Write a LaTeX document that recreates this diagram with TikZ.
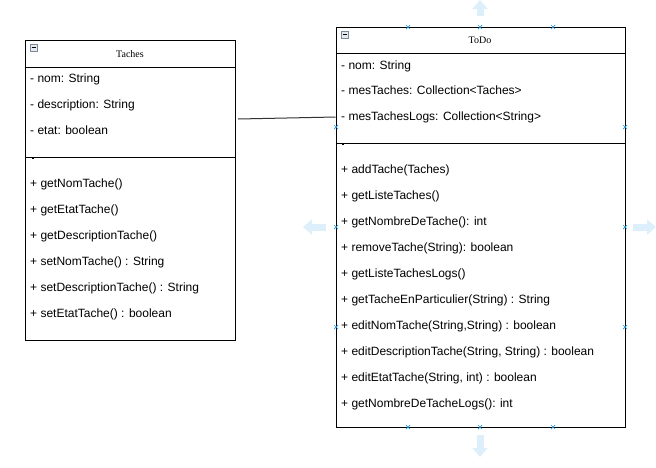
\documentclass[tikz,border=0pt]{standalone}
\usepackage{fontspec}
\setmainfont{Liberation Sans}
\newfontfamily\titlefont{Liberation Serif}
\usetikzlibrary{positioning}
\usetikzlibrary{arrows.meta}
\definecolor{handleblue}{HTML}{1E9BE0}
\definecolor{hintblue}{HTML}{DCEFFB}
\definecolor{iconedge}{HTML}{7A8A99}
\definecolor{iconfill}{HTML}{E4EAF0}
\tikzset {
  x=1pt, y=-1pt,
  % class rectangle
  classbox/.style={draw, line width=1pt, inner sep=0pt},
  % class name in the header
  classname/.style={inner sep=0pt, font=\titlefont\fontsize{10}{12}\selectfont},
  % one attribute or operation line
  member/.style={anchor=west, inner sep=0pt, text height=8.5pt, text depth=2.5pt,
    font=\fontsize{12}{14}\selectfont},
  % section divider
  divider/.style={line width=0.8pt},
  % the collapse icon
  collapse/.style={draw=iconedge, fill=iconfill, line width=0.6pt},
  % selection handles of the selected class
  handle/.style={handleblue, line width=0.7pt},
  % light blue hint arrows
  hint/.style={hintblue, line width=7pt, -{Triangle[width=15pt,length=9pt]}},
  link/.style={black!80, line width=1pt},
}
\begin{document}
\begin{tikzpicture}
  \useasboundingbox (0,0) rectangle (656,467);

  % class Taches
  \node[classbox, minimum width=210pt, minimum height=300pt] (taches) at (130,190) {};
  \coordinate (tachesh) at (25,67);
  \coordinate (tachesa) at (25,157);
  \draw[divider] (tachesh) -- (tachesh -| taches.east);
  \draw[divider] (tachesa) -- (tachesa -| taches.east);
  \node[classname] (tachesname) at (130,54) {Taches};
  \draw[collapse] (30,44) rectangle (37,51);
  \draw[line width=0.8pt] (31.5,47.5) -- (35.5,47.5);
  \draw[line width=0.8pt] (32,158) -- (34,158);

  \node[member] (tnom) at (30,79) {- nom: String};
  \node[member] (tdesc) at (30,105) {- description: String};
  \node[member] (tetat) at (30,131) {- etat: boolean};

  \node[member] (tm1) at (30,184) {+ getNomTache()};
  \node[member] (tm2) at (30,210) {+ getEtatTache()};
  \node[member] (tm3) at (30,236) {+ getDescriptionTache()};
  \node[member] (tm4) at (30,262) {+ setNomTache() : String};
  \node[member] (tm5) at (30,288) {+ setDescriptionTache() : String};
  \node[member] (tm6) at (30,314) {+ setEtatTache() : boolean};

  % class ToDo
  \node[classbox, minimum width=289pt, minimum height=400pt] (todo) at (480.5,227) {};
  \coordinate (todoh) at (336,53);
  \coordinate (todoa) at (336,143);
  \draw[divider] (todoh) -- (todoh -| todo.east);
  \draw[divider] (todoa) -- (todoa -| todo.east);
  \node[classname] (todoname) at (480,40) {ToDo};
  \draw[collapse] (341,31) rectangle (348,38);
  \draw[line width=0.8pt] (342.5,34.5) -- (346.5,34.5);
  \draw[line width=0.8pt] (342,144) -- (344,144);

  \node[member] (dnom) at (341,66) {- nom: String};
  \node[member] (dtaches) at (341,91) {- mesTaches: Collection<Taches>};
  \node[member] (dlogs) at (341,117) {- mesTachesLogs: Collection<String>};

  \node[member] (dm1) at (341,170) {+ addTache(Taches)};
  \node[member] (dm2) at (341,196) {+ getListeTaches()};
  \node[member] (dm3) at (341,222) {+ getNombreDeTache(): int};
  \node[member] (dm4) at (341,248) {+ removeTache(String): boolean};
  \node[member] (dm5) at (341,274) {+ getListeTachesLogs()};
  \node[member] (dm6) at (341,300) {+ getTacheEnParticulier(String) : String};
  \node[member] (dm7) at (341,326) {+ editNomTache(String,String) : boolean};
  \node[member] (dm8) at (341,352) {+ editDescriptionTache(String, String) : boolean};
  \node[member] (dm9) at (341,378) {+ editEtatTache(String, int) : boolean};
  \node[member] (dm10) at (341,404) {+ getNombreDeTacheLogs(): int};

  % association
  \coordinate (linkstart) at (238,119);
  \draw[link] (linkstart) -- (todo.west |- 0,117);

  % selection handles
  \foreach \hx/\hy in {408/27, 480/27, 553/27, 408/427, 480/427, 553/427,
                       336/127, 336/227, 336/327, 625/127, 625/227, 625/327}
    \draw[handle] (\hx-2,\hy-2) -- (\hx+2,\hy+2) (\hx-2,\hy+2) -- (\hx+2,\hy-2);

  % hint arrows
  \draw[hint] (480,16) -- (480,0);
  \draw[hint] (480,435) -- (480,457);
  \draw[hint] (326,227) -- (303,227);
  \draw[hint] (633,227) -- (656,227);

\end{tikzpicture}
\end{document}
